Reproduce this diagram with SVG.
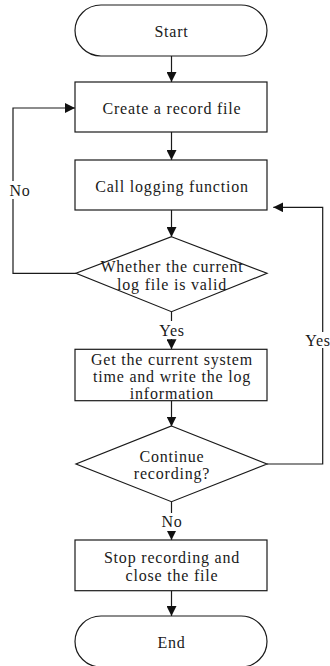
<svg xmlns="http://www.w3.org/2000/svg" width="330" height="666" viewBox="0 0 330 666">
<defs>
<style>
.s{fill:#fff;stroke:#1a1a1a;stroke-width:1.2}
.c{fill:none;stroke:#1a1a1a;stroke-width:1.2}
text{font-family:"Liberation Serif","Times New Roman",serif;font-size:16px;fill:#1a1a1a;letter-spacing:0.8px;text-anchor:middle;dominant-baseline:central}
</style>
<marker id="ah" markerWidth="10" markerHeight="10" refX="10" refY="5" orient="auto" markerUnits="userSpaceOnUse">
<path d="M0,0 L10,5 L0,10 Z" fill="#111"/>
</marker>
</defs>
<rect width="330" height="666" fill="#fff"/>
<g id="connectors">
<line class="c" x1="171.5" y1="56" x2="171.5" y2="82" marker-end="url(#ah)"/>
<line class="c" x1="171.5" y1="132" x2="171.5" y2="160" marker-end="url(#ah)"/>
<line class="c" x1="171.5" y1="210" x2="171.5" y2="237" marker-end="url(#ah)"/>
<polyline class="c" points="76,273.3 13,273.3 13,108 75,108" marker-end="url(#ah)"/>
<line class="c" x1="171.5" y1="311.7" x2="171.5" y2="349.3" marker-end="url(#ah)"/>
<line class="c" x1="171.5" y1="400.7" x2="171.5" y2="426.5" marker-end="url(#ah)"/>
<polyline class="c" points="267,464 322.7,464 322.7,207.3 273.3,207.3" marker-end="url(#ah)"/>
<line class="c" x1="171.5" y1="501.7" x2="171.5" y2="540" marker-end="url(#ah)"/>
<line class="c" x1="171.5" y1="590.7" x2="171.5" y2="616" marker-end="url(#ah)"/>
<rect x="4" y="181" width="30" height="18" fill="#fff"/>
<text x="20" y="190">No</text>
<rect x="155" y="321" width="33" height="18" fill="#fff"/>
<text x="172" y="330">Yes</text>
<rect x="303" y="332" width="27" height="16" fill="#fff"/>
<text x="318" y="340">Yes</text>
<rect x="155" y="513" width="33" height="18" fill="#fff"/>
<text x="172" y="521.7">No</text>
</g>
<g id="start">
<rect class="s" x="75" y="5" width="192" height="51" rx="26" ry="25.5"/>
<text x="171.5" y="31">Start</text>
</g>
<g id="create">
<rect class="s" x="75" y="82" width="192" height="50"/>
<text x="172" y="108">Create a record file</text>
</g>
<g id="call">
<rect class="s" x="75" y="160" width="192" height="50"/>
<text x="172" y="186">Call logging function</text>
</g>
<g id="valid">
<polygon class="s" points="171.5,236.7 267,273.3 171.5,311.7 76,273.3"/>
<text x="172" y="266.5">Whether the current</text>
<text x="172" y="284">log file is valid</text>
</g>
<g id="write">
<rect class="s" x="75" y="349.3" width="192" height="51.4"/>
<text x="172" y="359">Get the current system</text>
<text x="172" y="376">time and write the log</text>
<text x="172" y="393">information</text>
</g>
<g id="continue">
<polygon class="s" points="171.5,426 267,464 171.5,501.7 76,464"/>
<text x="172" y="456">Continue</text>
<text x="172" y="473">recording?</text>
</g>
<g id="stop">
<rect class="s" x="75" y="540" width="192" height="50.7"/>
<text x="172" y="557">Stop recording and</text>
<text x="172" y="575">close the file</text>
</g>
<g id="end">
<rect class="s" x="75" y="616" width="192" height="51" rx="26" ry="25.5"/>
<text x="171.5" y="642">End</text>
</g>
</svg>
